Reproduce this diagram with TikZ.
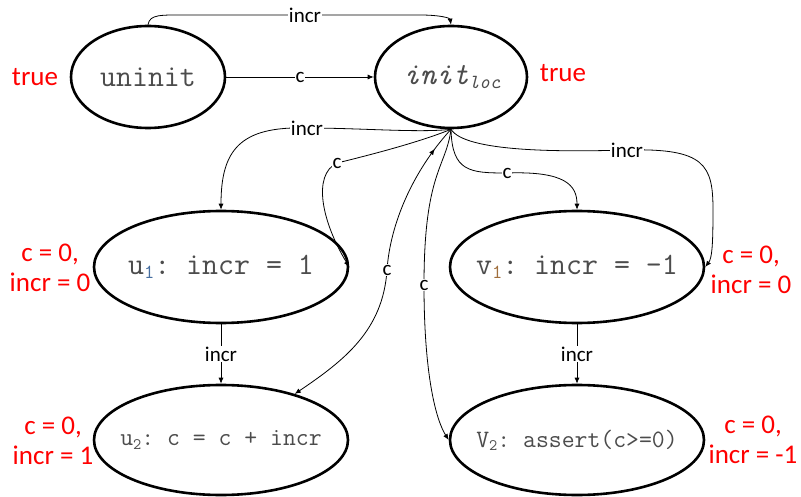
\documentclass[tikz,border=0pt]{standalone}
\usepackage{fontspec}
\setmainfont{Carlito}
\usetikzlibrary{shapes.geometric,arrows.meta,decorations.markings}
\newcommand{\mysub}[2]{\raisebox{-0.3ex}{\fontsize{#1}{#1}\selectfont #2}}
\frenchspacing
\begin{document}
\begin{tikzpicture}[x=1pt,y=-1pt,
 st/.style={draw,ellipse,line width=2.6pt,inner sep=0pt},
 conn/.style={line width=0.8pt,-{Latex[length=6pt,width=5pt]}},
 lbl/.style={fill=white,inner sep=1pt,font=\fontsize{21}{21}\selectfont},
 cond/.style={text=red,align=center,font=\fontsize{27}{30}\selectfont},
 code/.style={text=black!70,font=\ttfamily\fontsize{31}{31}\selectfont},
 codes/.style={text=black!70,font=\ttfamily\fontsize{25}{25}\selectfont}]
\useasboundingbox[fill=white] (0,0) rectangle (801,497);

% states
\node[st,minimum width=154pt,minimum height=102pt] (uninit) at (148,77) {};
\node[st,minimum width=152pt,minimum height=102pt] (init) at (451,77) {};
\node[st,minimum width=254pt,minimum height=112pt] (u1) at (221,267) {};
\node[st,minimum width=254pt,minimum height=112pt] (v1) at (577,267) {};
\node[st,minimum width=254pt,minimum height=110pt] (u2) at (221,440) {};
\node[st,minimum width=254pt,minimum height=110pt] (v2) at (577,440) {};

% state texts
\node[code] (tuninit) at (uninit) {uninit};
\node[code] (tinit) at ([xshift=1pt]init) {\itshape init\mysub{20}{\itshape loc}};
\node[code] (tu1) at (u1) {u\mysub{20}{\textcolor[RGB]{70,110,160}{1}}: incr = 1};
\node[code] (tv1) at (v1) {v\mysub{20}{\textcolor[RGB]{160,110,60}{1}}: incr = -1};
\node[codes] (tu2) at (u2) {u\mysub{16}{2}: c = c + incr};
\node[codes] (tv2) at (v2) {V\mysub{16}{2}: assert(c>=0)};

% conditions
\node[cond] (c0) at (35,77) {true};
\node[cond] (c1) at (563,73) {true};
\node[cond] (c2) at (50,268) {c = 0,\\incr = 0};
\node[cond] (c3) at (751,270) {c = 0,\\incr = 0};
\node[cond] (c4) at (53,441) {c = 0,\\incr = 1};
\node[cond] (c5) at (753,440) {c = 0,\\incr = -1};

% connectors
\draw[conn] (uninit.east) -- node[lbl]{c} (init.west);
\draw[conn] (uninit.north) .. controls (150,14) and (160,15) .. (190,15)
  -- node[lbl]{incr} (420,15) .. controls (440,15) and (450,18) .. (init.north);

\draw[conn] (init.south) .. controls (420,133) and (360,128) .. (307,128) node[lbl]{incr}
  .. controls (240,126) and (221,150) .. (u1.north);
\draw[conn] (init.south) .. controls (420,142) and (370,155) .. (337,163) node[lbl]{c}
  .. controls (312,175) and (322,222) .. (u1.east);
\draw[conn,postaction={decorate,decoration={markings,
   mark=at position 0.08 with {\arrowreversed{Latex[length=6pt,width=5pt]}}}}]
  (init.south) .. controls (412,172) and (390,225) .. (387,270) node[lbl]{c}
  .. controls (383,330) and (345,360) .. (u2.32);
\draw[conn] (init.south) .. controls (446,168) and (424,172) .. (424,285) node[lbl]{c}
  .. controls (424,375) and (436,420) .. (v2.west);
\draw[conn] (init.south) .. controls (452,172) and (470,173) .. (507,173) node[lbl]{c}
  .. controls (565,171) and (577,185) .. (v1.north);
\draw[conn] (init.south) .. controls (465,152) and (560,152) .. (627,150) node[lbl]{incr}
  .. controls (705,148) and (713,165) .. (713,210) .. controls (713,245) and (712,258) .. (v1.east);

\draw[conn] (u1.south) -- node[lbl]{incr} (u2.north);
\draw[conn] (v1.south) -- node[lbl]{incr} (v2.north);
\end{tikzpicture}
\end{document}
